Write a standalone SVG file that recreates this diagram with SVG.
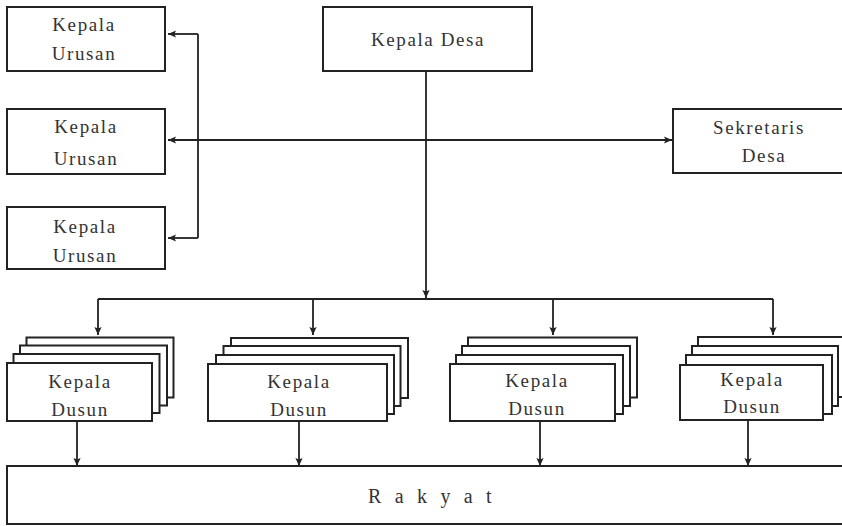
<svg xmlns="http://www.w3.org/2000/svg" width="842" height="526" viewBox="0 0 842 526">
<style>
.box{fill:#fff;stroke:#222;stroke-width:2}
.ln{fill:none;stroke:#222;stroke-width:1.8}
.t{font-family:"Liberation Serif","Times New Roman",serif;font-size:19px;fill:#333;letter-spacing:1.6px;text-anchor:middle}
</style>
<defs>
<marker id="a" viewBox="0 0 10 10" refX="10" refY="5" markerWidth="9" markerHeight="8" orient="auto" markerUnits="userSpaceOnUse">
<path d="M0,0.5 L10,5 L0,9.5 L2,5 Z" fill="#222"/>
</marker>
</defs>
<rect width="842" height="526" fill="#fff"/>

<g id="connectors">
<path class="ln" d="M198,34 V238"/>
<path class="ln" d="M198,34 H168" marker-end="url(#a)"/>
<path class="ln" d="M198,238 H168" marker-end="url(#a)"/>
<path class="ln" d="M426,140 H168" marker-end="url(#a)"/>
<path class="ln" d="M426,140 H672" marker-end="url(#a)"/>
<path class="ln" d="M426,71 V298" marker-end="url(#a)"/>
<path class="ln" d="M98,299 H773"/>
<path class="ln" d="M98,299 V335" marker-end="url(#a)"/>
<path class="ln" d="M313,299 V335" marker-end="url(#a)"/>
<path class="ln" d="M553,299 V335" marker-end="url(#a)"/>
<path class="ln" d="M773,299 V335" marker-end="url(#a)"/>
<path class="ln" d="M77,421 V466" marker-end="url(#a)"/>
<path class="ln" d="M299,421 V466" marker-end="url(#a)"/>
<path class="ln" d="M540,421 V466" marker-end="url(#a)"/>
<path class="ln" d="M748,421 V466" marker-end="url(#a)"/>
</g>

<g id="kepala-urusan-1">
<rect class="box" x="7" y="7" width="158" height="64"/>
<text class="t" x="84" y="31">Kepala</text>
<text class="t" x="84" y="60">Urusan</text>
</g>
<g id="kepala-urusan-2">
<rect class="box" x="7" y="109" width="158" height="65"/>
<text class="t" x="86" y="133">Kepala</text>
<text class="t" x="86" y="165">Urusan</text>
</g>
<g id="kepala-urusan-3">
<rect class="box" x="7" y="207" width="158" height="62"/>
<text class="t" x="85" y="233">Kepala</text>
<text class="t" x="85" y="262">Urusan</text>
</g>

<g id="kepala-desa">
<rect class="box" x="323" y="7" width="209" height="64"/>
<text class="t" x="428" y="46">Kepala Desa</text>
</g>

<g id="sekretaris-desa">
<rect class="box" x="673" y="109" width="180" height="64"/>
<text class="t" x="759" y="134">Sekretaris</text>
<text class="t" x="764" y="162">Desa</text>
</g>

<g id="kepala-dusun-1">
<rect class="box" x="26.5" y="337.5" width="147" height="60"/>
<rect class="box" x="20" y="345.5" width="147" height="60"/>
<rect class="box" x="13.5" y="354" width="146" height="59"/>
<rect class="box" x="7" y="363" width="145" height="58"/>
<text class="t" x="80" y="388">Kepala</text>
<text class="t" x="80" y="416">Dusun</text>
</g>
<g id="kepala-dusun-2">
<rect class="box" x="231" y="338" width="177" height="60"/>
<rect class="box" x="223.5" y="346" width="177" height="60"/>
<rect class="box" x="216" y="355" width="178" height="59"/>
<rect class="box" x="208" y="364" width="179" height="57"/>
<text class="t" x="299" y="388">Kepala</text>
<text class="t" x="299" y="416">Dusun</text>
</g>
<g id="kepala-dusun-3">
<rect class="box" x="468" y="337.5" width="169" height="60"/>
<rect class="box" x="462" y="346" width="168" height="60"/>
<rect class="box" x="456" y="355" width="167" height="59"/>
<rect class="box" x="450" y="364" width="165" height="57"/>
<text class="t" x="537" y="387">Kepala</text>
<text class="t" x="537" y="415">Dusun</text>
</g>
<g id="kepala-dusun-4">
<rect class="box" x="698" y="337" width="150" height="60"/>
<rect class="box" x="692" y="346" width="146" height="60"/>
<rect class="box" x="686" y="355" width="146" height="59"/>
<rect class="box" x="680" y="365" width="143" height="55"/>
<text class="t" x="752" y="386">Kepala</text>
<text class="t" x="752" y="413">Dusun</text>
</g>

<g id="rakyat">
<rect class="box" x="7" y="466" width="850" height="58"/>
<text class="t" x="368" y="503" style="text-anchor:start;font-size:20px;letter-spacing:4.2px">R a k y a t</text>
</g>
</svg>
